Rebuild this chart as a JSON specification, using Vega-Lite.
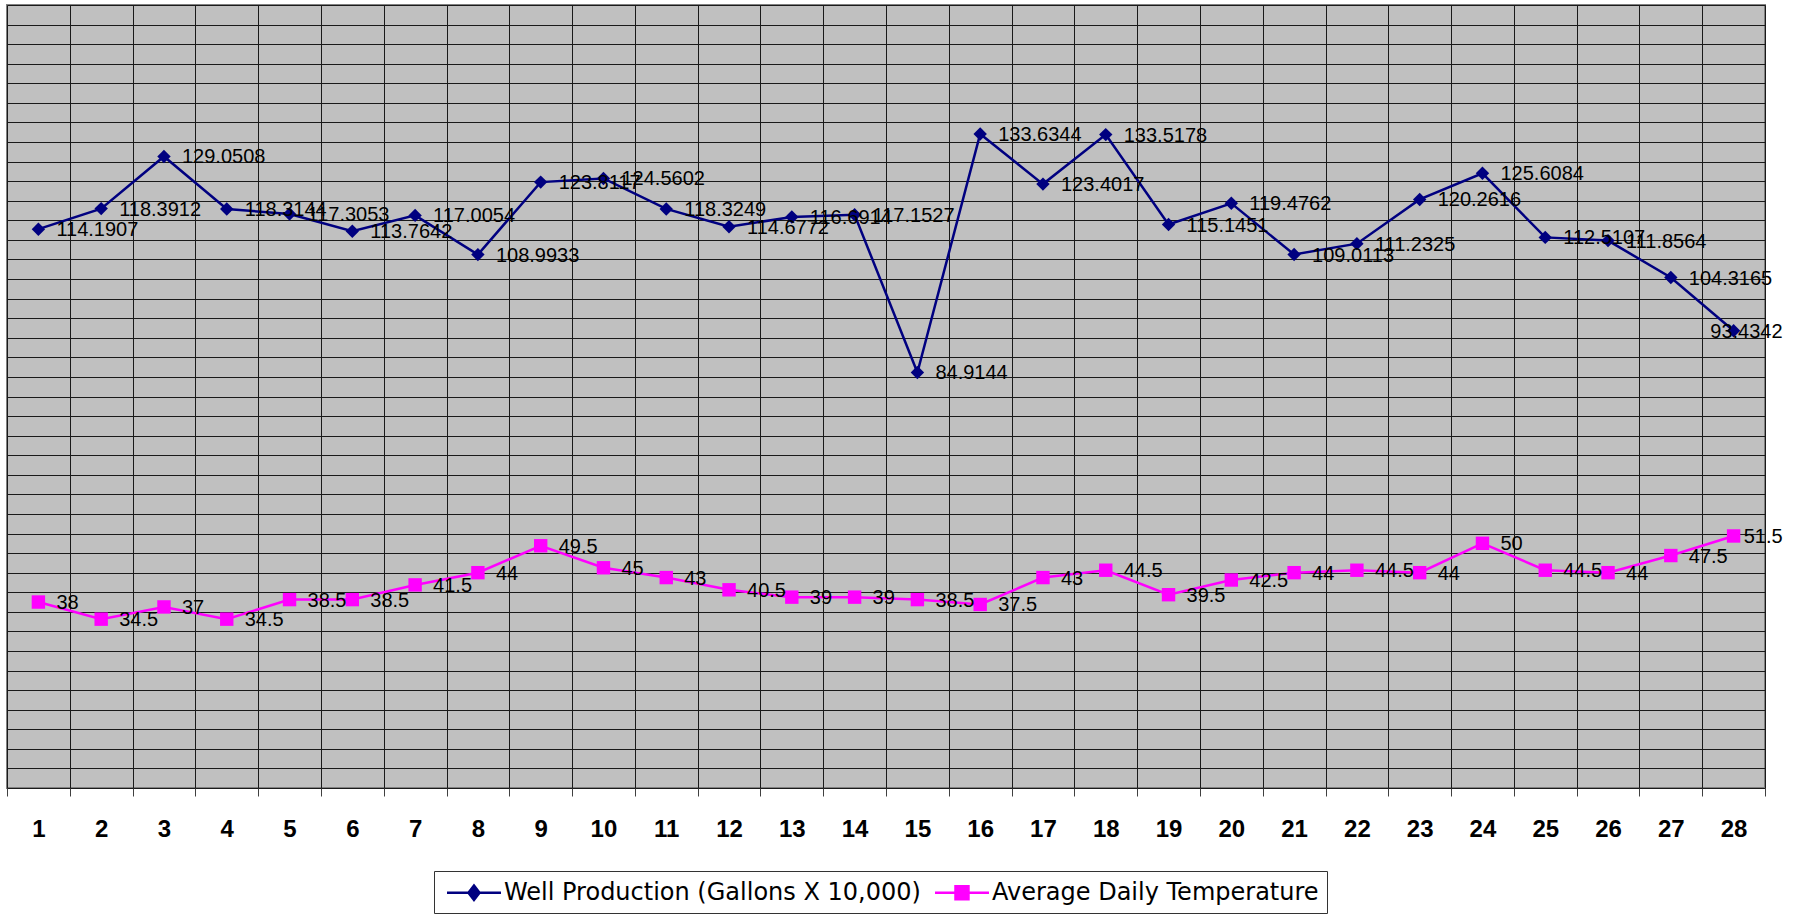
{
  "$schema": "https://vega.github.io/schema/vega-lite/v6.json",
  "width": 1758,
  "height": 783,
  "autosize": {"type": "none"},
  "padding": {"left": 7, "top": 5, "right": 40, "bottom": 127},
  "background": "white",
  "config": {
    "view": {"fill": "#C0C0C0", "stroke": "#808080", "strokeWidth": 2}
  },
  "data": {
    "values": [
      {"day": 1, "series": "Well Production (Gallons X 10,000)", "value": 114.1907},
      {"day": 2, "series": "Well Production (Gallons X 10,000)", "value": 118.3912},
      {"day": 3, "series": "Well Production (Gallons X 10,000)", "value": 129.0508},
      {"day": 4, "series": "Well Production (Gallons X 10,000)", "value": 118.3144},
      {"day": 5, "series": "Well Production (Gallons X 10,000)", "value": 117.3053},
      {"day": 6, "series": "Well Production (Gallons X 10,000)", "value": 113.7642},
      {"day": 7, "series": "Well Production (Gallons X 10,000)", "value": 117.0054},
      {"day": 8, "series": "Well Production (Gallons X 10,000)", "value": 108.9933},
      {"day": 9, "series": "Well Production (Gallons X 10,000)", "value": 123.8117},
      {"day": 10, "series": "Well Production (Gallons X 10,000)", "value": 124.5602},
      {"day": 11, "series": "Well Production (Gallons X 10,000)", "value": 118.3249},
      {"day": 12, "series": "Well Production (Gallons X 10,000)", "value": 114.6772},
      {"day": 13, "series": "Well Production (Gallons X 10,000)", "value": 116.6914},
      {"day": 14, "series": "Well Production (Gallons X 10,000)", "value": 117.1527},
      {"day": 15, "series": "Well Production (Gallons X 10,000)", "value": 84.9144},
      {"day": 16, "series": "Well Production (Gallons X 10,000)", "value": 133.6344},
      {"day": 17, "series": "Well Production (Gallons X 10,000)", "value": 123.4017},
      {"day": 18, "series": "Well Production (Gallons X 10,000)", "value": 133.5178},
      {"day": 19, "series": "Well Production (Gallons X 10,000)", "value": 115.1451},
      {"day": 20, "series": "Well Production (Gallons X 10,000)", "value": 119.4762},
      {"day": 21, "series": "Well Production (Gallons X 10,000)", "value": 109.0113},
      {"day": 22, "series": "Well Production (Gallons X 10,000)", "value": 111.2325},
      {"day": 23, "series": "Well Production (Gallons X 10,000)", "value": 120.2616},
      {"day": 24, "series": "Well Production (Gallons X 10,000)", "value": 125.6084},
      {"day": 25, "series": "Well Production (Gallons X 10,000)", "value": 112.5107},
      {"day": 26, "series": "Well Production (Gallons X 10,000)", "value": 111.8564},
      {"day": 27, "series": "Well Production (Gallons X 10,000)", "value": 104.3165},
      {"day": 28, "series": "Well Production (Gallons X 10,000)", "value": 93.4342},
      {"day": 1, "series": "Average Daily Temperature", "value": 38},
      {"day": 2, "series": "Average Daily Temperature", "value": 34.5},
      {"day": 3, "series": "Average Daily Temperature", "value": 37},
      {"day": 4, "series": "Average Daily Temperature", "value": 34.5},
      {"day": 5, "series": "Average Daily Temperature", "value": 38.5},
      {"day": 6, "series": "Average Daily Temperature", "value": 38.5},
      {"day": 7, "series": "Average Daily Temperature", "value": 41.5},
      {"day": 8, "series": "Average Daily Temperature", "value": 44},
      {"day": 9, "series": "Average Daily Temperature", "value": 49.5},
      {"day": 10, "series": "Average Daily Temperature", "value": 45},
      {"day": 11, "series": "Average Daily Temperature", "value": 43},
      {"day": 12, "series": "Average Daily Temperature", "value": 40.5},
      {"day": 13, "series": "Average Daily Temperature", "value": 39},
      {"day": 14, "series": "Average Daily Temperature", "value": 39},
      {"day": 15, "series": "Average Daily Temperature", "value": 38.5},
      {"day": 16, "series": "Average Daily Temperature", "value": 37.5},
      {"day": 17, "series": "Average Daily Temperature", "value": 43},
      {"day": 18, "series": "Average Daily Temperature", "value": 44.5},
      {"day": 19, "series": "Average Daily Temperature", "value": 39.5},
      {"day": 20, "series": "Average Daily Temperature", "value": 42.5},
      {"day": 21, "series": "Average Daily Temperature", "value": 44},
      {"day": 22, "series": "Average Daily Temperature", "value": 44.5},
      {"day": 23, "series": "Average Daily Temperature", "value": 44},
      {"day": 24, "series": "Average Daily Temperature", "value": 50},
      {"day": 25, "series": "Average Daily Temperature", "value": 44.5},
      {"day": 26, "series": "Average Daily Temperature", "value": 44},
      {"day": 27, "series": "Average Daily Temperature", "value": 47.5},
      {"day": 28, "series": "Average Daily Temperature", "value": 51.5}
    ]
  },
  "encoding": {
    "x": {
      "field": "day",
      "type": "ordinal",
      "scale": {"paddingInner": 0, "paddingOuter": 0},
      "axis": {
        "title": null,
        "labelAngle": 0,
        "tickBand": "extent",
        "grid": true,
        "gridColor": "#1a1a1a",
        "gridWidth": 1,
        "domain": false,
        "ticks": true,
        "tickColor": "#404040",
        "tickSize": 8,
        "tickWidth": 1,
        "labelFont": "Liberation Sans",
        "labelFontSize": 24,
        "labelFontWeight": "bold",
        "labelColor": "#000000",
        "labelPadding": 21
      }
    },
    "y": {
      "field": "value",
      "type": "quantitative",
      "scale": {"domain": [0, 160], "nice": false},
      "axis": {
        "title": null,
        "values": [0, 4, 8, 12, 16, 20, 24, 28, 32, 36, 40, 44, 48, 52, 56, 60, 64, 68, 72, 76, 80, 84, 88, 92, 96, 100, 104, 108, 112, 116, 120, 124, 128, 132, 136, 140, 144, 148, 152, 156, 160],
        "labels": false,
        "ticks": false,
        "domain": false,
        "grid": true,
        "gridColor": "#1a1a1a",
        "gridWidth": 1
      }
    }
  },
  "layer": [
    {
      "mark": {"type": "line", "strokeWidth": 2.5},
      "encoding": {
        "color": {
          "field": "series",
          "type": "nominal",
          "scale": {"domain": ["Well Production (Gallons X 10,000)", "Average Daily Temperature"], "range": ["#000080", "#FF00FF"]},
          "legend": {
            "title": null,
            "orient": "none",
            "legendX": 427,
            "legendY": 866,
            "direction": "horizontal",
            "symbolSize": 576,
            "symbolStrokeWidth": 2.5,
            "labelFont": "DejaVu Sans",
            "labelFontSize": 24,
            "labelColor": "#000000",
            "labelOffset": 35,
            "labelLimit": 600,
            "padding": 8,
            "strokeColor": "#333333",
            "fillColor": "#FFFFFF",
            "columnPadding": 9,
            "encode": {
              "symbols": {
                "update": {
                  "shape": {"signal": "datum.value == 'Average Daily Temperature' ? 'M -0.708 0 L 3.79 0 M 1.0 -0.54 L 2.08 -0.54 L 2.08 0.54 L 1.0 0.54 Z' : 'M -0.708 0 L 3.79 0 M 1.54 -0.6 L 2.0 0 L 1.54 0.6 L 1.08 0 Z'"},
                  "fill": {"signal": "datum.value == 'Average Daily Temperature' ? '#FF00FF' : '#000080'"},
                  "stroke": {"signal": "datum.value == 'Average Daily Temperature' ? '#FF00FF' : '#000080'"},
                  "strokeWidth": {"value": 2.5},
                  "size": {"value": 576},
                  "opacity": {"value": 1}
                }
              }
            }
          }
        }
      }
    },
    {
      "transform": [{"filter": "datum.series == 'Well Production (Gallons X 10,000)'"}],
      "mark": {"type": "point", "shape": "diamond", "filled": true, "color": "#000080", "size": 180, "opacity": 1}
    },
    {
      "transform": [{"filter": "datum.series == 'Average Daily Temperature'"}],
      "mark": {"type": "point", "shape": "square", "filled": true, "color": "#FF00FF", "size": 180, "opacity": 1}
    },
    {
      "transform": [{"filter": "datum.day < 28"}],
      "mark": {"type": "text", "align": "left", "baseline": "middle", "dx": 18, "dy": 1, "font": "Liberation Sans", "fontSize": 20, "color": "#000000"},
      "encoding": {"text": {"field": "value", "type": "nominal"}}
    },
    {
      "transform": [{"filter": "datum.day == 28"}],
      "mark": {"type": "text", "align": "right", "baseline": "middle", "dx": 49, "dy": 1, "font": "Liberation Sans", "fontSize": 20, "color": "#000000"},
      "encoding": {"text": {"field": "value", "type": "nominal"}}
    }
  ]
}
